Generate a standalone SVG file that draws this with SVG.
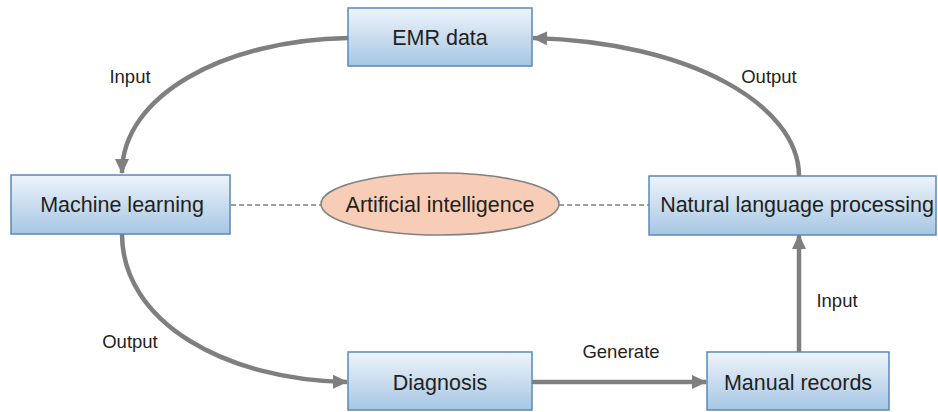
<svg xmlns="http://www.w3.org/2000/svg" width="938" height="412" viewBox="0 0 938 412">
<defs>
<linearGradient id="boxg" x1="0" y1="0" x2="0" y2="1">
<stop offset="0" stop-color="#eef4fb"/>
<stop offset="1" stop-color="#a6c6e3"/>
</linearGradient>
<marker id="ah" markerUnits="userSpaceOnUse" markerWidth="16" markerHeight="16" viewBox="0 0 16 16" refX="14" refY="8" orient="auto">
<path d="M0,1 L15,8 L0,15 Z" fill="#7f7f7f"/>
</marker>
<style>
.box{fill:url(#boxg);stroke:#5a88b8;stroke-width:1.5}
.t{font-family:"Liberation Sans",Arial,sans-serif;font-size:21.5px;fill:#231f20;text-anchor:middle}
.l{font-family:"Liberation Sans",Arial,sans-serif;font-size:18.5px;fill:#231f20;text-anchor:middle}
.c{fill:none;stroke:#7f7f7f;stroke-width:4.5;marker-end:url(#ah)}
.d{fill:none;stroke:#808080;stroke-width:1.5;stroke-dasharray:5 3}
</style>
</defs>
<g id="connectors">
<path class="c" d="M348,38 C225,40 122,95 122,173"/>
<path class="c" d="M799,176 C799,105 690,42 533,38"/>
<path class="c" d="M122,234 C122,322 225,380 347,382"/>
<path class="c" d="M532,382 L706,382"/>
<path class="c" d="M799,352 L799,235"/>
<path class="d" d="M231,205 L321,205"/>
<path class="d" d="M559,205 L649,205"/>
<text class="l" x="130" y="83">Input</text>
<text class="l" x="769" y="83">Output</text>
<text class="l" x="130" y="348">Output</text>
<text class="l" x="621" y="358">Generate</text>
<text class="l" x="837" y="307">Input</text>
</g>
<g id="emr">
<rect class="box" x="348" y="8" width="184" height="58"/>
<text class="t" x="440" y="45">EMR data</text>
</g>
<g id="ml">
<rect class="box" x="11" y="175" width="219" height="59"/>
<text class="t" x="122" y="212">Machine learning</text>
</g>
<g id="ai">
<ellipse cx="440" cy="204" rx="119" ry="31" fill="#f8cdb7" stroke="#808080" stroke-width="1.5"/>
<text class="t" x="440" y="212">Artificial intelligence</text>
</g>
<g id="nlp">
<rect class="box" x="649" y="176" width="287" height="59"/>
<text class="t" x="797" y="212">Natural language processing</text>
</g>
<g id="diag">
<rect class="box" x="348" y="352" width="184" height="58"/>
<text class="t" x="440" y="390">Diagnosis</text>
</g>
<g id="manual">
<rect class="box" x="707" y="352" width="182" height="58"/>
<text class="t" x="798" y="390">Manual records</text>
</g>
</svg>
